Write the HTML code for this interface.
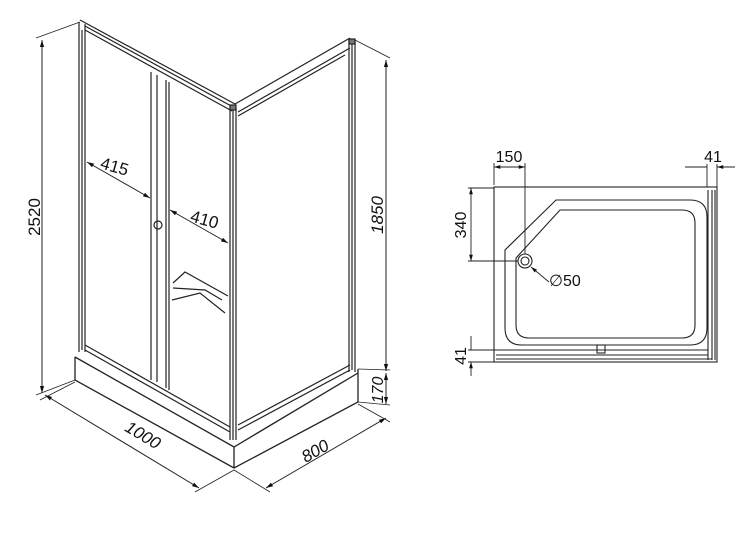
<!DOCTYPE html>
<html><head><meta charset="utf-8"><style>
html,body{margin:0;padding:0;background:#fff}
svg{display:block}
text{font-family:"Liberation Sans",sans-serif;fill:#111}
</style></head><body>
<svg width="750" height="535" viewBox="0 0 750 535" xmlns="http://www.w3.org/2000/svg">
<defs>
<marker id="a" viewBox="0 0 10 10" refX="10" refY="5" markerWidth="7" markerHeight="7" orient="auto-start-reverse"><path d="M0,2 L10,5 L0,8 z" fill="#111"/></marker>
</defs>
<g stroke="#222" fill="none" stroke-width="1.2">
<path d="M79,22 L79,352 M85,24 L85,352 M82,30 L82,350"/>
<path d="M80,20 L235,104 M85,30 L232,111 M85,26 L233,107"/>
<path d="M235,104 L350,38 M238,116 L345,55 M238,112 L350,48"/>
<path d="M230,108 L230,440 M236,108 L236,440 M233,110 L233,440"/>
<rect x="230" y="105" width="6" height="5" fill="#777"/>
<path d="M349,40 L349,372 M355,40 L355,372 M352,44 L352,370"/>
<rect x="349" y="39" width="6" height="5" fill="#777"/>
<path d="M151,72 L151,380 M157,75 L157,382 M166,80 L166,388 M169,82 L169,390"/>
<circle cx="158" cy="225" r="4"/>
<path d="M85,345 L230,427 M85,350 L230,432 M238,425 L350,365 M238,430 L350,370"/>
<path d="M173,283 L185,272 L228,296 M173,288 L205,290 L222,300 M172,300 L200,293 L225,313"/>
<path d="M75,357 L75,380 L234,468 L358,402 L358,369 M75,357 L234,447 L358,373 M234,447 L234,468" stroke-width="1.3"/>
<path d="M42,40 L42,393" marker-start="url(#a)" marker-end="url(#a)" stroke-width="1"/>
<path d="M36,38 L80,22 M36,395 L75,380" stroke-width="0.8"/>
<path d="M386,60 L386,371" marker-start="url(#a)" marker-end="url(#a)" stroke-width="1"/>
<path d="M386,373 L386,404" marker-start="url(#a)" marker-end="url(#a)" stroke-width="1"/>
<path d="M355,40 L390,58 M358,369 L390,370 M358,402 L390,405" stroke-width="0.8"/>
<path d="M45,395 L199,488" marker-start="url(#a)" marker-end="url(#a)" stroke-width="1"/>
<path d="M75,382 L40,400 M234,470 L195,492" stroke-width="0.8"/>
<path d="M266,488 L386,418" marker-start="url(#a)" marker-end="url(#a)" stroke-width="1"/>
<path d="M234,470 L270,492 M358,404 L390,422" stroke-width="0.8"/>
<path d="M87,162 L150,198" marker-start="url(#a)" marker-end="url(#a)" stroke-width="1"/>
<path d="M170,210 L228,243" marker-start="url(#a)" marker-end="url(#a)" stroke-width="1"/>
</g>
<text x="0" y="0" font-size="17" transform="translate(40,217) rotate(-90)" text-anchor="middle">2520</text>
<text x="0" y="0" font-size="17" font-style="italic" transform="translate(383,215) rotate(-90)" text-anchor="middle">1850</text>
<text x="0" y="0" font-size="16" font-style="italic" transform="translate(383,390) rotate(-90)" text-anchor="middle">170</text>
<text x="0" y="0" font-size="17" font-style="italic" transform="translate(140,440) rotate(31)" text-anchor="middle">1000</text>
<text x="0" y="0" font-size="17" font-style="italic" transform="translate(318,456) rotate(-30)" text-anchor="middle">800</text>
<text x="0" y="0" font-size="17" transform="translate(113,172) rotate(16)" text-anchor="middle">415</text>
<text x="0" y="0" font-size="17" transform="translate(203,225) rotate(16)" text-anchor="middle">410</text>

<g stroke="#222" fill="none" stroke-width="1.1">
<rect x="494" y="187" width="223" height="175"/>
<path d="M556,200 L690,200 Q707,200 707,217 L707,328 Q707,345 690,345 L522,345 Q505,345 505,328 L505,250 Z"/>
<path d="M560,210 L682,210 Q695,210 695,223 L695,325 Q695,338 682,338 L529,338 Q516,338 516,325 L516,258 Z"/>
<circle cx="525" cy="261" r="7"/>
<circle cx="525" cy="261" r="4"/>
<path d="M708,190 L708,360 M712,190 L712,360 M715,190 L715,360"/>
<path d="M496,350 L708,350 M496,355 L708,355 M496,359 L712,359"/>
<rect x="597" y="345" width="8" height="8"/>
<path d="M494,185 L494,163 M525,254 L525,163 M707,187 L707,164 M717,187 L717,164" stroke-width="0.9"/>
<path d="M494,167 L525,167" marker-start="url(#a)" marker-end="url(#a)" stroke-width="0.9"/>
<path d="M685,167 L707,167 M717,167 L735,167" stroke-width="0.9"/>
<path d="M695,167 L707,167 M727,167 L717,167" marker-end="url(#a)" stroke-width="0.9"/>
<path d="M468,188 L494,188 M468,261 L518,261" stroke-width="0.9"/>
<path d="M471,188 L471,261" marker-start="url(#a)" marker-end="url(#a)" stroke-width="0.9"/>
<path d="M468,350 L496,350 M468,362 L494,362" stroke-width="0.9"/>
<path d="M471,336 L471,350 M471,376 L471,362" marker-end="url(#a)" stroke-width="0.9"/>
<path d="M549,282 L531,267" marker-end="url(#a)" stroke-width="0.9"/>
</g>
<text x="509" y="162" font-size="16" text-anchor="middle">150</text>
<text x="713" y="162" font-size="16" text-anchor="middle">41</text>
<text x="0" y="0" font-size="16" transform="translate(466,225) rotate(-90)" text-anchor="middle">340</text>
<text x="0" y="0" font-size="16" transform="translate(466,356) rotate(-90)" text-anchor="middle">41</text>
<text x="549" y="286" font-size="16">∅50</text>
</svg>
</body></html>
